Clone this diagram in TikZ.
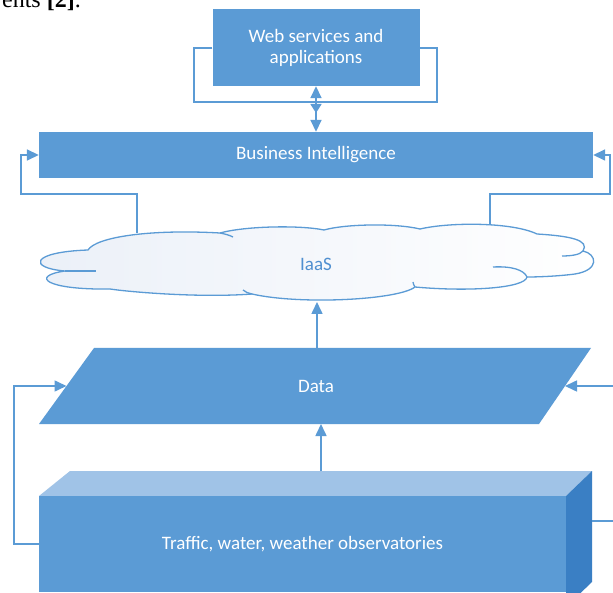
\documentclass[tikz,border=0pt]{standalone}
\usepackage{fontspec}
\setmainfont{Carlito}
\newfontfamily\serifpart{Liberation Serif}
\usetikzlibrary{arrows.meta,calc}
\definecolor{offblue}{HTML}{5B9BD5}
\definecolor{topface}{HTML}{A0C3E7}
\definecolor{sideface}{HTML}{3A7FC4}
\definecolor{cloudtint}{HTML}{EBF0F8}
\definecolor{iaasblue}{HTML}{4F8FD0}
\tikzset{
  bluebox/.style={rectangle, fill=offblue, draw=none, text=white, align=center,
    font=\fontsize{19}{21}\selectfont, inner sep=0pt},
  conn/.style={draw=offblue, line width=1.6pt},
  tip/.style={-{Triangle[length=12pt,width=11pt]}},
  cloudline/.style={draw=offblue, line width=1.3pt},
}
\begin{document}
\begin{tikzpicture}[x=1pt,y=-1pt]
\useasboundingbox (0,0) rectangle (613,593);
\fill[white] (0,0) rectangle (613,593);

% fragment of page text
\node[anchor=base east, inner sep=0pt, font=\serifpart\fontsize{24}{24}\selectfont] (frag) at (81,8) {ents \textbf{[2]}.};

% Web services box
\node[bluebox, minimum width=207pt, minimum height=77pt] (web) at (316,47.5) {Web services and\\applications};
% Business Intelligence
\node[bluebox, minimum width=554pt, minimum height=46pt] (bi) at (316,155) {Business Intelligence};

% loop around web box
\coordinate (loopL) at (194,102);
\coordinate (loopR) at (437,48);
\draw[conn] (web.west |- loopR) -| (loopL) -| (loopR) -- (web.east |- loopR);
\coordinate (midtip) at (316,113);
\coordinate (loopM) at (316,102);
\draw[conn, {Triangle[length=12pt,width=11pt]}-{Triangle[length=9pt,width=11pt]}] (web.south) -- (midtip);
\draw[conn, tip] (loopM) -- (bi.north);

% cloud
\path[cloudline, left color=cloudtint, right color=white]
  (88,250)
  .. controls (96,237) and (150,229) .. (220,233)
  .. controls (245,226) and (300,225) .. (324,230)
  .. controls (345,224) and (395,223) .. (420,229)
  .. controls (450,222) and (512,222) .. (537,234)
  .. controls (570,236) and (590,240) .. (583,251)
  .. controls (597,254) and (600,270) .. (575,274)
  .. controls (560,276) and (540,277) .. (527,277)
  .. controls (525,288) and (470,292) .. (415,287)
  .. controls (398,300) and (300,305) .. (252,294)
  .. controls (200,298) and (130,292) .. (110,289)
  .. controls (45,290) and (30,276) .. (65,271)
  .. controls (28,268) and (30,252) .. (88,250) -- cycle;
\draw[cloudline] (65,271) .. controls (75,271) and (85,271) .. (96,271);
\draw[cloudline] (220,233) .. controls (225,234) and (229,235) .. (233,237);
\draw[cloudline] (583,251) .. controls (580,255) and (570,256) .. (562,256);
\draw[cloudline] (493,267) .. controls (512,266) and (524,270) .. (527,277);
\draw[cloudline] (415,287) .. controls (414,285) and (413,284) .. (413,282);
\draw[cloudline] (252,294) .. controls (248,293) and (245,292) .. (243,290);
\node[text=iaasblue, font=\fontsize{19}{21}\selectfont, inner sep=0pt] (iaas) at (316,264) {IaaS};

% connectors cloud -> BI
\coordinate (cloudL) at (137,233);
\coordinate (cloudR) at (490,225);
\coordinate (bendL) at (21,194);
\coordinate (bendR) at (610,194);
\draw[conn, tip] (cloudL) |- (bendL) |- (bi.west);
\draw[conn, tip] (cloudR) |- (bendR) |- (bi.east);

% Data parallelogram
\coordinate (dTL) at (94,348);
\coordinate (dTR) at (591,348);
\coordinate (dBR) at (539,424);
\coordinate (dBL) at (39,424);
\fill[offblue] (dTL) -- (dTR) -- (dBR) -- (dBL) -- cycle;
\node[text=white, font=\fontsize{19}{21}\selectfont, inner sep=0pt] (data) at (316,386) {Data};
\coordinate (dataL) at ($(dTL)!0.5!(dBL)$);
\coordinate (dataR) at ($(dTR)!0.5!(dBR)$);
\coordinate (dataTop) at (317,348);
\coordinate (cloudB) at (317,302);
\draw[conn, tip] (dataTop) -- (cloudB);

% observatories cuboid
\fill[topface] (39,496) -- (70,471) -- (592,471) -- (566,496) -- cycle;
\fill[sideface] (566,496) -- (592,471) -- (592,582) -- (566,607) -- cycle;
\node[bluebox, minimum width=527pt, minimum height=96pt] (obs) at (302.5,544) {Traffic, water, weather observatories};
\coordinate (obsTop) at (321,471);
\coordinate (dataBot) at (321,424);
\draw[conn, tip] (obsTop) -- (dataBot);

% side feedback connectors
\coordinate (bendD) at (14,386);
\draw[conn, tip] (obs.west) -| (bendD) -- (dataL);
\coordinate (sideR) at (592,521);
\coordinate (offR1) at (620,521);
\coordinate (offR2) at (620,386);
\draw[conn] (sideR) -- (offR1);
\draw[conn, tip] (offR2) -- (dataR);
\end{tikzpicture}
\end{document}
